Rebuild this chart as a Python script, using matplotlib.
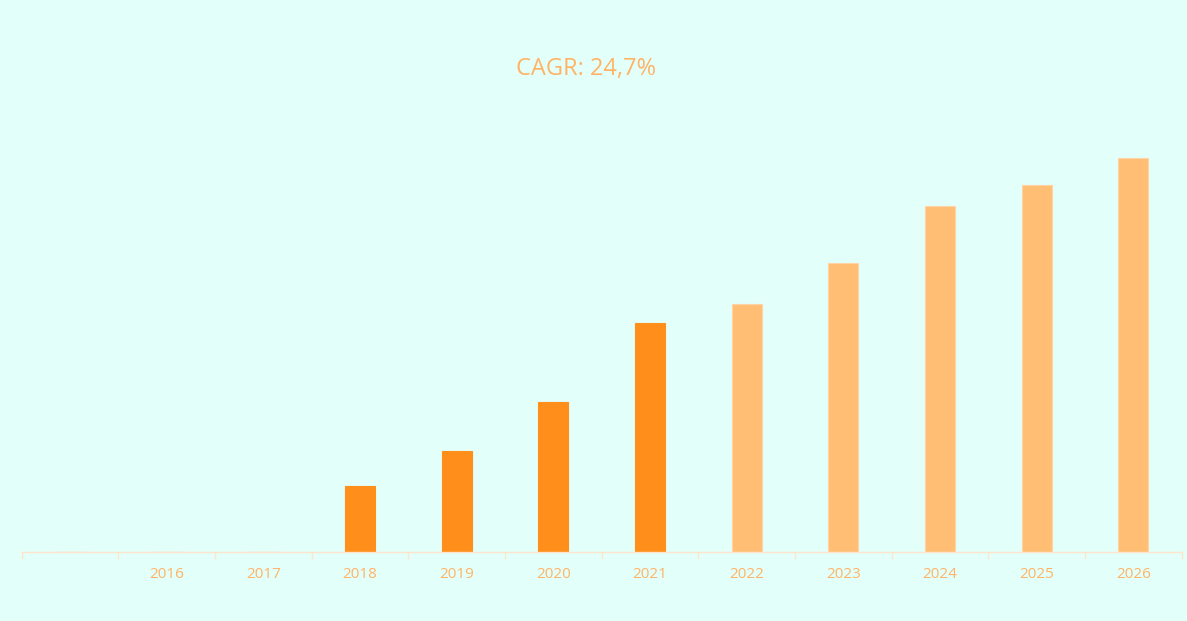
import matplotlib
matplotlib.use("Agg")
import matplotlib.pyplot as plt

categories = ["", "2016", "2017", "2018", "2019", "2020", "2021", "2022", "2023", "2024", "2025", "2026"]
values = [0, 0, 0, 66, 101, 150, 229, 248, 289, 346, 367, 394]
forecast = [False, False, False, False, False, False, False, True, True, True, True, True]
title = "CAGR: 24,7%"

bg = "#E3FFF9"
dark = "#FF8F1A"
light = "#FFBE73"
text_c = "#FFB366"
axis_c = "#FFE4CC"

plt.rcParams['font.family'] = ['Open Sans', 'DejaVu Sans']

fig = plt.figure(figsize=(11.87, 6.21), dpi=100, facecolor=bg)
ax = fig.add_axes([21.7/1187, 69/621, 1160/1187, 450/621])
ax.set_facecolor(bg)

x = list(range(len(categories)))
colors = [light if f else dark for f in forecast]
edges = ["#FFD3A6" if f else dark for f in forecast]
ax.bar(x, values, width=0.31, color=colors, edgecolor=edges, linewidth=0.8)

ax.set_xlim(-0.5, len(categories) - 0.5)
ax.set_ylim(0, 450)
ax.set_xticks(x)
ax.set_xticklabels(categories, color=text_c, fontsize=11)
ax.set_xticks([i - 0.5 for i in range(len(categories) + 1)], minor=True)
ax.tick_params(axis='x', which='major', length=0, pad=11)
ax.tick_params(axis='x', which='minor', length=5, color=axis_c, width=1)
ax.set_yticks([])
for s in ["top", "right", "left"]:
    ax.spines[s].set_visible(False)
ax.spines["bottom"].set_color(axis_c)
ax.spines["bottom"].set_linewidth(1)

fig.text(586/1187, 1 - 69/621, title, ha="center", va="center", color=text_c, fontsize=17)

fig.savefig("out.png", dpi=100, facecolor=bg)
